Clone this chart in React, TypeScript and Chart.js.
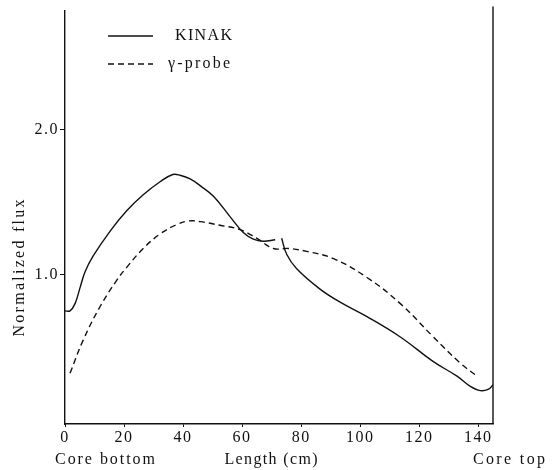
import React, { useEffect, useRef } from 'react';
import { Chart, registerables } from 'chart.js';

Chart.register(...registerables);

// ---- data ----
const kinakX = [0, 1.7, 3.4, 5.1, 6.8, 9.6, 15.3, 20.9, 26.5, 32.2, 36.5, 39, 42.4, 46, 50.3, 55.9, 60.4, 63.8, 67.2, 71.2, 72.3, 73.4, 75.1, 78.5, 86.4, 93.2, 102.3, 113.6, 124.8, 132.8, 137.3, 140.7, 143.5, 145];
const kinakY = [0.75, 0.75, 0.8, 0.91, 1.02, 1.13, 1.3, 1.44, 1.55, 1.64, 1.69, 1.685, 1.66, 1.61, 1.54, 1.4, 1.29, 1.245, 1.23, 1.24, null, 1.25, 1.14, 1.04, 0.9, 0.81, 0.71, 0.57, 0.4, 0.3, 0.23, 0.2, 0.21, 0.24];

const probeX = [1.7, 6.2, 11.9, 17.5, 20.9, 26.5, 32.2, 37.9, 42, 45.8, 52.5, 59.3, 65, 70.6, 75.7, 81.9, 91, 102.3, 113.6, 124.8, 133.9, 139.6];
const probeY = [0.32, 0.55, 0.78, 0.96, 1.05, 1.18, 1.28, 1.345, 1.37, 1.365, 1.34, 1.31, 1.25, 1.18, 1.18, 1.16, 1.11, 0.98, 0.8, 0.57, 0.39, 0.3];

const seriesLabels = ['KINAK', '\u03b3-probe'];
const xTickValues = [0, 20, 40, 60, 80, 100, 120, 140];
const yTickValues = [1.0, 2.0];
const xAxisTitle = 'Length (cm)';
const xLeftNote = 'Core bottom';
const xRightNote = 'Core top';
const yAxisTitle = 'Normalized flux';

const INK = '#111';
const FONT_FAMILY = '"Liberation Serif", "DejaVu Serif", serif';

function drawSpaced(ctx: CanvasRenderingContext2D, text: string, cx: number, cy: number, target: number) {
  ctx.letterSpacing = '0px';
  const w = ctx.measureText(text).width;
  const ls = Math.max(0, (target - w) / Math.max(1, text.length - 1));
  ctx.letterSpacing = ls + 'px';
  ctx.textAlign = 'left';
  ctx.textBaseline = 'middle';
  ctx.fillText(text, cx - target / 2, cy);
  ctx.letterSpacing = '0px';
}

const extrasPlugin = {
  id: 'extras',
  beforeDraw(chart: any) {
    chart.ctx.letterSpacing = '1.5px';
  },
  afterDraw(chart: any) {
    const { ctx, chartArea } = chart;
    ctx.save();
    ctx.letterSpacing = '0px';
    // right frame line
    ctx.strokeStyle = INK;
    ctx.lineWidth = 1.4;
    ctx.setLineDash([]);
    ctx.beginPath();
    ctx.moveTo(chartArea.right, chartArea.top - 4);
    ctx.lineTo(chartArea.right, chartArea.bottom);
    ctx.stroke();

    ctx.fillStyle = INK;
    ctx.font = `16px ${FONT_FAMILY}`;
    drawSpaced(ctx, xLeftNote, 105, 460, 100);
    drawSpaced(ctx, xAxisTitle, 271, 460, 93);
    drawSpaced(ctx, xRightNote, 509, 460, 72);

    ctx.save();
    ctx.translate(20, 268);
    ctx.rotate(-Math.PI / 2);
    drawSpaced(ctx, yAxisTitle, 0, 0, 137);
    ctx.restore();

    // legend inside plot
    const legendCenters = [203.5, 199];
    const legendWidths = [57, 62];
    chart.data.datasets.forEach((ds: any, i: number) => {
      const y = 36 + i * 28;
      ctx.strokeStyle = ds.borderColor;
      ctx.lineWidth = ds.borderWidth;
      ctx.setLineDash(ds.borderDash || []);
      ctx.beginPath();
      ctx.moveTo(108, y);
      ctx.lineTo(153, y);
      ctx.stroke();
      ctx.setLineDash([]);
      ctx.fillStyle = INK;
      ctx.font = `16px ${FONT_FAMILY}`;
      drawSpaced(ctx, ds.label, legendCenters[i], y, legendWidths[i]);
    });
    ctx.restore();
  },
};

export default function App() {
  const ref = useRef<HTMLCanvasElement | null>(null);

  useEffect(() => {
    if (!ref.current) return;
    const kinak = kinakX.map((x, i) => ({ x, y: kinakY[i] }));
    const probe = probeX.map((x, i) => ({ x, y: probeY[i] }));
    const chart = new Chart(ref.current, {
      type: 'line',
      data: {
        datasets: [
          {
            label: seriesLabels[0],
            data: kinak as any,
            borderColor: INK,
            borderWidth: 1.4,
            pointRadius: 0,
            fill: false,
            tension: 0.4,
            spanGaps: false,
          },
          {
            label: seriesLabels[1],
            data: probe as any,
            borderColor: INK,
            borderWidth: 1.4,
            borderDash: [6, 4],
            pointRadius: 0,
            fill: false,
            tension: 0.4,
          },
        ],
      },
      options: {
        animation: false,
        responsive: false,
        events: [],
        layout: { padding: { top: 9, right: 66, left: 0, bottom: 0 } },
        plugins: {
          legend: { display: false },
          tooltip: { enabled: false },
          title: { display: false },
        },
        scales: {
          x: {
            type: 'linear',
            min: 0,
            max: 145,
            afterBuildTicks: (s: any) => {
              s.ticks = xTickValues.map((v) => ({ value: v }));
            },
            afterFit: (s: any) => {
              s.height = 46;
            },
            grid: { display: true, drawOnChartArea: false, drawTicks: true, tickLength: 3, color: INK },
            border: { display: true, color: INK, width: 1.4 },
            ticks: {
              color: INK,
              padding: 1,
              maxRotation: 0,
              autoSkip: false,
              font: { family: FONT_FAMILY, size: 16 },
              callback: (v: any) => String(v),
            },
          },
          y: {
            type: 'linear',
            min: -0.03,
            max: 2.82,
            afterBuildTicks: (s: any) => {
              s.ticks = yTickValues.map((v) => ({ value: v }));
            },
            afterFit: (s: any) => {
              s.width = 65;
            },
            grid: { display: true, drawOnChartArea: false, drawTicks: true, tickLength: 5, color: INK },
            border: { display: true, color: INK, width: 1.4 },
            ticks: {
              color: INK,
              padding: 1,
              font: { family: FONT_FAMILY, size: 16 },
              callback: (v: any) => Number(v).toFixed(1),
            },
          },
        },
      },
      plugins: [extrasPlugin],
    });
    return () => chart.destroy();
  }, []);

  return (
    <div style={{ position: 'fixed', left: 0, top: 0, width: 559, height: 470, background: '#fff' }}>
      <canvas ref={ref} width={559} height={470} style={{ display: 'block', width: 559, height: 470 }} />
    </div>
  );
}
